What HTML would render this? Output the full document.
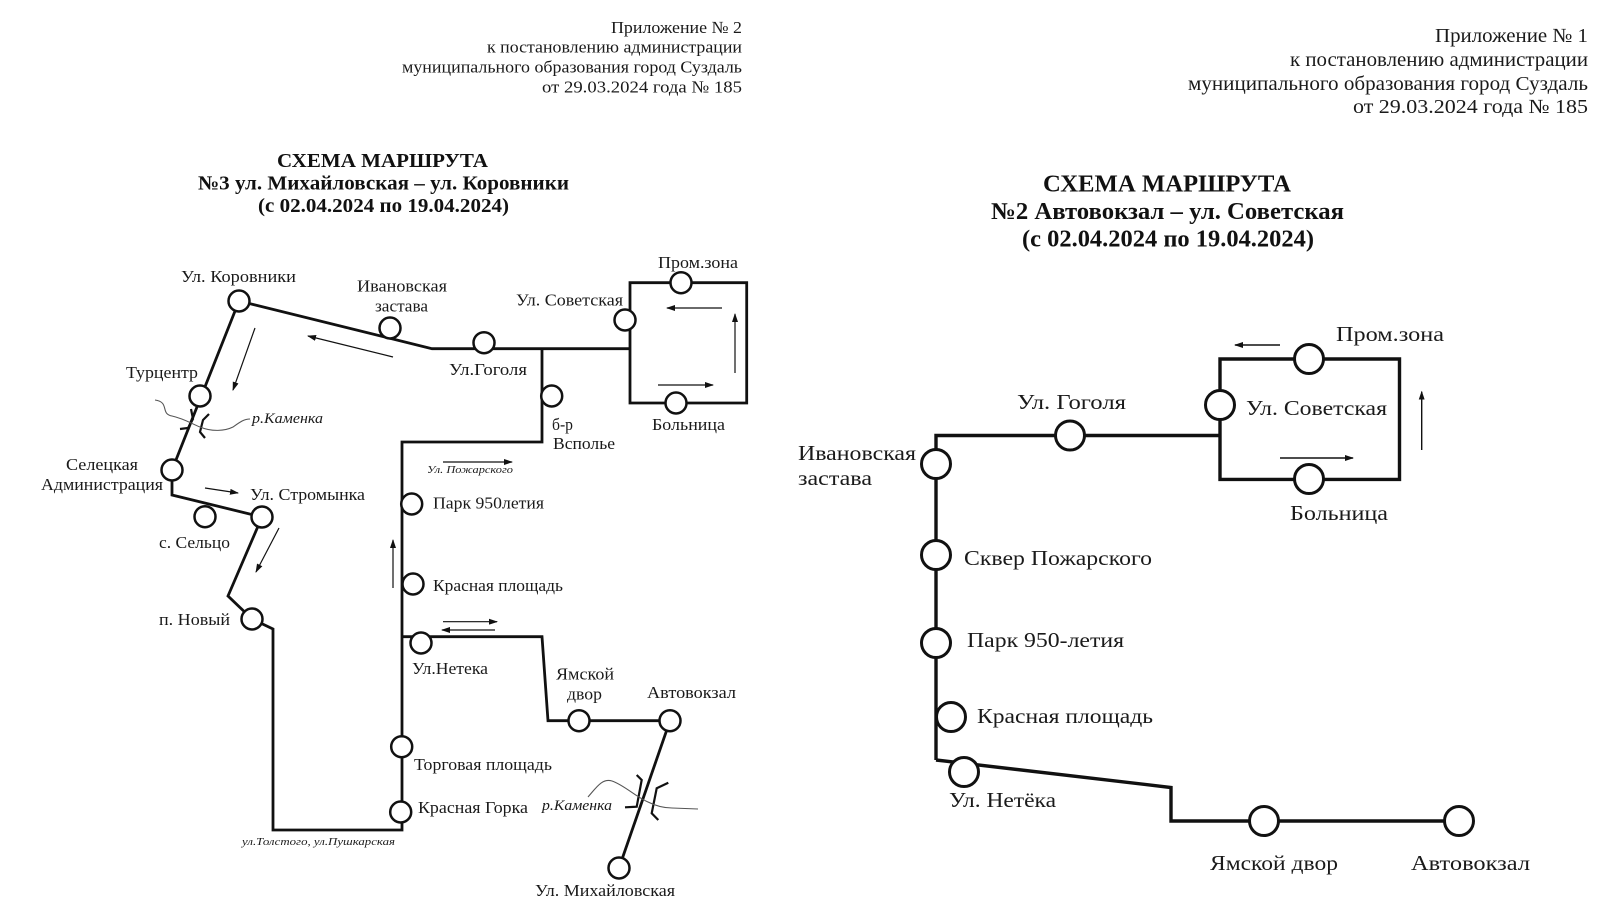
<!DOCTYPE html>
<html>
<head>
<meta charset="utf-8">
<style>
  html,body{margin:0;padding:0;background:#fff;}
  svg{display:block;}
  text{font-family:"Liberation Serif","Noto Serif CJK SC",serif;fill:#1a1a1a;}
  .h{font-size:17px;}
  .hr{font-size:20px;}
  .t{font-size:20px;font-weight:bold;fill:#111;}
  .tr{font-size:24px;font-weight:bold;fill:#111;}
  .l{font-size:17px;}
  .r{font-size:21px;}
  .i{font-style:italic;font-size:15px;}
  .s{font-style:italic;font-size:11px;}
</style>
</head>
<body>
<svg width="1600" height="900" viewBox="0 0 1600 900" xmlns="http://www.w3.org/2000/svg">
  <defs>
    <marker id="ah" markerWidth="9" markerHeight="6" refX="8" refY="3" orient="auto" markerUnits="userSpaceOnUse">
      <path d="M0,0 L9,3 L0,6 z" fill="#111"/>
    </marker>
  </defs>
  <rect width="1600" height="900" fill="#fff"/>

  <!-- LEFT HEADER -->
  <text class="h" x="611" y="33" textLength="131" lengthAdjust="spacingAndGlyphs">Приложение № 2</text>
  <text class="h" x="487" y="52.5" textLength="255" lengthAdjust="spacingAndGlyphs">к постановлению администрации</text>
  <text class="h" x="402" y="72.5" textLength="340" lengthAdjust="spacingAndGlyphs">муниципального образования город Суздаль</text>
  <text class="h" x="542" y="92.5" textLength="200" lengthAdjust="spacingAndGlyphs">от 29.03.2024 года № 185</text>

  <!-- LEFT TITLE -->
  <text class="t" x="277" y="167" textLength="211" lengthAdjust="spacingAndGlyphs">СХЕМА МАРШРУТА</text>
  <text class="t" x="198" y="189.5" textLength="371" lengthAdjust="spacingAndGlyphs">№3 ул. Михайловская – ул. Коровники</text>
  <text class="t" x="258" y="212" textLength="251" lengthAdjust="spacingAndGlyphs">(с 02.04.2024 по 19.04.2024)</text>

  <!-- RIGHT HEADER -->
  <text class="hr" x="1435" y="42" textLength="153" lengthAdjust="spacingAndGlyphs">Приложение № 1</text>
  <text class="hr" x="1290" y="66" textLength="298" lengthAdjust="spacingAndGlyphs">к постановлению администрации</text>
  <text class="hr" x="1188" y="90" textLength="400" lengthAdjust="spacingAndGlyphs">муниципального образования город Суздаль</text>
  <text class="hr" x="1353" y="113" textLength="235" lengthAdjust="spacingAndGlyphs">от 29.03.2024 года № 185</text>

  <!-- RIGHT TITLE -->
  <text class="tr" x="1043" y="191.5" textLength="248" lengthAdjust="spacingAndGlyphs">СХЕМА МАРШРУТА</text>
  <text class="tr" x="991" y="219" textLength="353" lengthAdjust="spacingAndGlyphs">№2 Автовокзал – ул. Советская</text>
  <text class="tr" x="1022" y="246.5" textLength="292" lengthAdjust="spacingAndGlyphs">(с 02.04.2024 по 19.04.2024)</text>

  <!-- ================= LEFT DIAGRAM LINES ================= -->
  <g fill="none" stroke="#111" stroke-width="2.8" stroke-linejoin="miter">
    <polyline points="239,301 432,348.7 630,348.7"/>
    <path d="M630,282.7 H746.7 V403 H630 Z"/>
    <polyline points="542,348.7 542,442 402,442 402,830 273,830 273,629 252,619 228,596 262,517 172,495 172,470 239,301"/>
    <polyline points="402,636.7 542,636.7 548,720.7 670,720.7"/>
    <line x1="670" y1="720.7" x2="619" y2="868"/>
  </g>

  <!-- bridges (left) -->
  <g fill="none" stroke="#111" stroke-width="2.2">
    <polyline points="180,429 188,428 193,419 191,409"/>
    <polyline points="209,414 203,420 200,432 205,438"/>
    <polyline points="625,807.3 636.7,806.7 641.7,780 636.7,775"/>
    <polyline points="668.3,782.7 656.7,788.3 651.7,813.3 658.3,820"/>
  </g>
  <!-- rivers -->
  <g fill="none" stroke="#555" stroke-width="1.1">
    <path d="M155,400 C170,402 160,414 172,416 C185,419 192,424 200,427 C212,432 225,431 233,427 C240,422 244,419 250,419"/>
    <path d="M588,797 C596,788 602,778 612,781 C624,785 636,797 648,802 C656,806 664,808 672,808 L698,809"/>
  </g>

  <!-- arrows left -->
  <g stroke="#111" stroke-width="1.2" marker-end="url(#ah)">
    <line x1="393" y1="357" x2="308" y2="336"/>
    <line x1="255" y1="328" x2="233" y2="390"/>
    <line x1="205" y1="488" x2="238" y2="493"/>
    <line x1="279" y1="528" x2="256" y2="572"/>
    <line x1="393" y1="588" x2="393" y2="540"/>
    <line x1="443" y1="462" x2="512" y2="462"/>
    <line x1="443" y1="621.7" x2="497" y2="621.7"/>
    <line x1="495" y1="630" x2="442" y2="630"/>
    <line x1="722" y1="308" x2="667" y2="308"/>
    <line x1="658" y1="385" x2="713" y2="385"/>
    <line x1="735" y1="373" x2="735" y2="314"/>
  </g>

  <!-- circles left -->
  <g fill="#fff" stroke="#111" stroke-width="2.5">
    <circle cx="239" cy="301" r="10.5"/>
    <circle cx="390" cy="328" r="10.5"/>
    <circle cx="484" cy="342.7" r="10.5"/>
    <circle cx="625" cy="320" r="10.5"/>
    <circle cx="681" cy="282.7" r="10.5"/>
    <circle cx="676" cy="403" r="10.5"/>
    <circle cx="551.7" cy="396" r="10.5"/>
    <circle cx="200" cy="396" r="10.5"/>
    <circle cx="172" cy="470" r="10.5"/>
    <circle cx="205" cy="516.7" r="10.5"/>
    <circle cx="262" cy="517" r="10.5"/>
    <circle cx="252" cy="619" r="10.5"/>
    <circle cx="411.7" cy="504" r="10.5"/>
    <circle cx="413" cy="584" r="10.5"/>
    <circle cx="421" cy="643" r="10.5"/>
    <circle cx="401.7" cy="746.7" r="10.5"/>
    <circle cx="400.7" cy="812" r="10.5"/>
    <circle cx="579" cy="720.7" r="10.5"/>
    <circle cx="670" cy="720.7" r="10.5"/>
    <circle cx="619" cy="868" r="10.5"/>
  </g>

  <!-- labels left -->
  <text class="l" x="181" y="282" textLength="115" lengthAdjust="spacingAndGlyphs">Ул. Коровники</text>
  <text class="l" x="357" y="291.5" textLength="90" lengthAdjust="spacingAndGlyphs">Ивановская</text>
  <text class="l" x="375" y="311.5" textLength="53" lengthAdjust="spacingAndGlyphs">застава</text>
  <text class="l" x="516" y="305.5" textLength="107" lengthAdjust="spacingAndGlyphs">Ул. Советская</text>
  <text class="l" x="658" y="268" textLength="80" lengthAdjust="spacingAndGlyphs">Пром.зона</text>
  <text class="l" x="449" y="375" textLength="78" lengthAdjust="spacingAndGlyphs">Ул.Гоголя</text>
  <text class="l" x="552" y="430" textLength="21" lengthAdjust="spacingAndGlyphs">б-р</text>
  <text class="l" x="553" y="449" textLength="62" lengthAdjust="spacingAndGlyphs">Всполье</text>
  <text class="l" x="652" y="430" textLength="73" lengthAdjust="spacingAndGlyphs">Больница</text>
  <text class="l" x="126" y="378" textLength="72" lengthAdjust="spacingAndGlyphs">Турцентр</text>
  <text class="i" x="252" y="423" textLength="71" lengthAdjust="spacingAndGlyphs">р.Каменка</text>
  <text class="l" x="66" y="470" textLength="72" lengthAdjust="spacingAndGlyphs">Селецкая</text>
  <text class="l" x="41" y="490" textLength="122" lengthAdjust="spacingAndGlyphs">Администрация</text>
  <text class="l" x="250" y="500" textLength="115" lengthAdjust="spacingAndGlyphs">Ул. Стромынка</text>
  <text class="l" x="159" y="548" textLength="71" lengthAdjust="spacingAndGlyphs">с. Сельцо</text>
  <text class="l" x="159" y="625" textLength="71" lengthAdjust="spacingAndGlyphs">п. Новый</text>
  <text class="l" x="433" y="508.5" textLength="111" lengthAdjust="spacingAndGlyphs">Парк 950летия</text>
  <text class="l" x="433" y="591" textLength="130" lengthAdjust="spacingAndGlyphs">Красная площадь</text>
  <text class="l" x="412" y="674" textLength="76" lengthAdjust="spacingAndGlyphs">Ул.Нетека</text>
  <text class="l" x="556" y="679.5" textLength="58" lengthAdjust="spacingAndGlyphs">Ямской</text>
  <text class="l" x="567" y="699.5" textLength="35" lengthAdjust="spacingAndGlyphs">двор</text>
  <text class="l" x="647" y="698" textLength="89" lengthAdjust="spacingAndGlyphs">Автовокзал</text>
  <text class="l" x="414" y="770" textLength="138" lengthAdjust="spacingAndGlyphs">Торговая площадь</text>
  <text class="l" x="418" y="813" textLength="110" lengthAdjust="spacingAndGlyphs">Красная Горка</text>
  <text class="i" x="542" y="810" textLength="70" lengthAdjust="spacingAndGlyphs">р.Каменка</text>
  <text class="l" x="535" y="896" textLength="140" lengthAdjust="spacingAndGlyphs">Ул. Михайловская</text>
  <text class="s" x="242" y="845" textLength="153" lengthAdjust="spacingAndGlyphs">ул.Толстого, ул.Пушкарская</text>
  <text class="s" x="427" y="473" textLength="86" lengthAdjust="spacingAndGlyphs">Ул. Пожарского</text>

  <!-- ================= RIGHT DIAGRAM ================= -->
  <g fill="none" stroke="#111" stroke-width="3.4" stroke-linejoin="miter">
    <polyline points="936,760 936,435.5 1220,435.5"/>
    <path d="M1220,359 H1399.5 V479.4 H1220 Z"/>
    <polyline points="936,760 1171,787.5 1171,821 1459,821"/>
  </g>

  <g stroke="#111" stroke-width="1.4" marker-end="url(#ah)">
    <line x1="1280" y1="345" x2="1235" y2="345"/>
    <line x1="1280" y1="458" x2="1353" y2="458"/>
    <line x1="1421.7" y1="450" x2="1421.7" y2="391.7"/>
  </g>

  <g fill="#fff" stroke="#111" stroke-width="3">
    <circle cx="936" cy="464" r="14.5"/>
    <circle cx="1070" cy="435.5" r="14.5"/>
    <circle cx="1220" cy="405" r="14.5"/>
    <circle cx="1309" cy="359" r="14.5"/>
    <circle cx="1309" cy="479" r="14.5"/>
    <circle cx="936" cy="555" r="14.5"/>
    <circle cx="936" cy="643" r="14.5"/>
    <circle cx="951" cy="717" r="14.5"/>
    <circle cx="964" cy="772" r="14.5"/>
    <circle cx="1264" cy="821" r="14.5"/>
    <circle cx="1459" cy="821" r="14.5"/>
  </g>

  <text class="r" x="1336" y="341" textLength="108" lengthAdjust="spacingAndGlyphs">Пром.зона</text>
  <text class="r" x="1246" y="415" textLength="141" lengthAdjust="spacingAndGlyphs">Ул. Советская</text>
  <text class="r" x="1290" y="520" textLength="98" lengthAdjust="spacingAndGlyphs">Больница</text>
  <text class="r" x="1017" y="409" textLength="109" lengthAdjust="spacingAndGlyphs">Ул. Гоголя</text>
  <text class="r" x="798" y="460" textLength="118" lengthAdjust="spacingAndGlyphs">Ивановская</text>
  <text class="r" x="798" y="485" textLength="74" lengthAdjust="spacingAndGlyphs">застава</text>
  <text class="r" x="964" y="565" textLength="188" lengthAdjust="spacingAndGlyphs">Сквер Пожарского</text>
  <text class="r" x="967" y="647" textLength="157" lengthAdjust="spacingAndGlyphs">Парк 950-летия</text>
  <text class="r" x="977" y="723" textLength="176" lengthAdjust="spacingAndGlyphs">Красная площадь</text>
  <text class="r" x="949" y="807" textLength="107" lengthAdjust="spacingAndGlyphs">Ул. Нетёка</text>
  <text class="r" x="1210" y="870" textLength="128" lengthAdjust="spacingAndGlyphs">Ямской двор</text>
  <text class="r" x="1411" y="870" textLength="119" lengthAdjust="spacingAndGlyphs">Автовокзал</text>
</svg>
</body>
</html>
